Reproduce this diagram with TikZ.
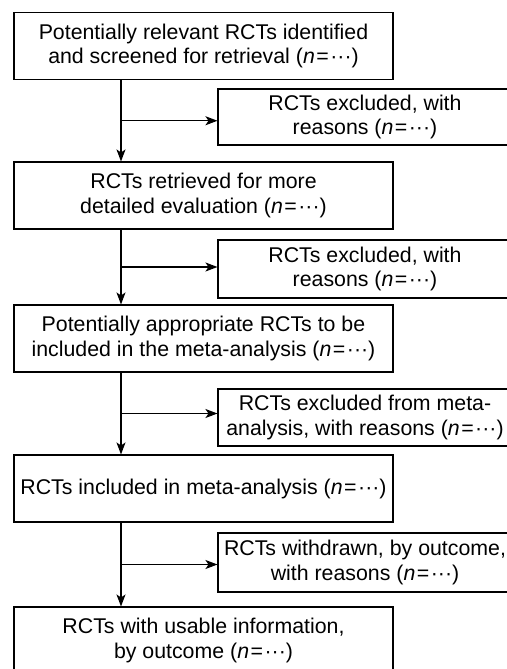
\documentclass[tikz,border=0pt]{standalone}
\usepackage{fontspec}
\setmainfont{Liberation Sans}
\usetikzlibrary{arrows.meta,calc}

\tikzset{
  mainbox/.style={draw, line width=1.1bp, minimum width=379bp, minimum height=67bp, align=center, inner sep=0pt},
  sidebox/.style={draw, line width=1.1bp, minimum width=294bp, align=center, inner sep=0pt},
  flow/.style={line width=1.1bp, -{Stealth[length=12bp,width=9bp,inset=3bp]}}
}
\newcommand{\nval}{(\textit{n}\kern1.5bp=\kern1.5bp···)}

\begin{document}
\begin{tikzpicture}[x=1bp,y=-1bp,font=\fontsize{21.4}{25}\selectfont]
  \useasboundingbox (0,0) rectangle (507,669);
  \clip (0,0) rectangle (507,669);
  \fill[white] (0,0) rectangle (507,669);
  % Main stages
  \node[mainbox] (b1) at (203.5,46)    {Potentially relevant RCTs identified\\and screened for retrieval \nval};
  \node[mainbox] (b2) at (203.5,195.5) {RCTs retrieved for more\\detailed evaluation \nval};
  \node[mainbox] (b3) at (203.5,338.5) {Potentially appropriate RCTs to be\\included in the meta-analysis \nval};
  \node[mainbox] (b4) at (203.5,488.5) {RCTs included in meta-analysis \nval};
  \node[mainbox] (b5) at (203.5,640.5) {RCTs with usable information,\\by outcome \nval};
  % Exclusions
  \node[sidebox, minimum height=56bp] (s1) at (365,117)   {RCTs excluded, with\\reasons \nval};
  \node[sidebox, minimum height=58bp] (s2) at (365,269)   {RCTs excluded, with\\reasons \nval};
  \node[sidebox, minimum height=57bp] (s3) at (365,417.5) {RCTs excluded from meta-\\analysis, with reasons \nval};
  \node[sidebox, minimum height=59bp] (s4) at (365,562.5) {RCTs withdrawn, by outcome,\\with reasons \nval};
  % Arrows
  \coordinate (t) at (121,0);
  \foreach \a/\b/\s in {b1/b2/s1, b2/b3/s2, b3/b4/s3, b4/b5/s4} {
    \coordinate (m) at ($(\a.south)!0.5!(\b.north)$);
    \draw[flow] (\a.south -| t) -- (\b.north -| t);
    \draw[flow] (m -| t) -- (m -| \s.west);
  }
\end{tikzpicture}
\end{document}
